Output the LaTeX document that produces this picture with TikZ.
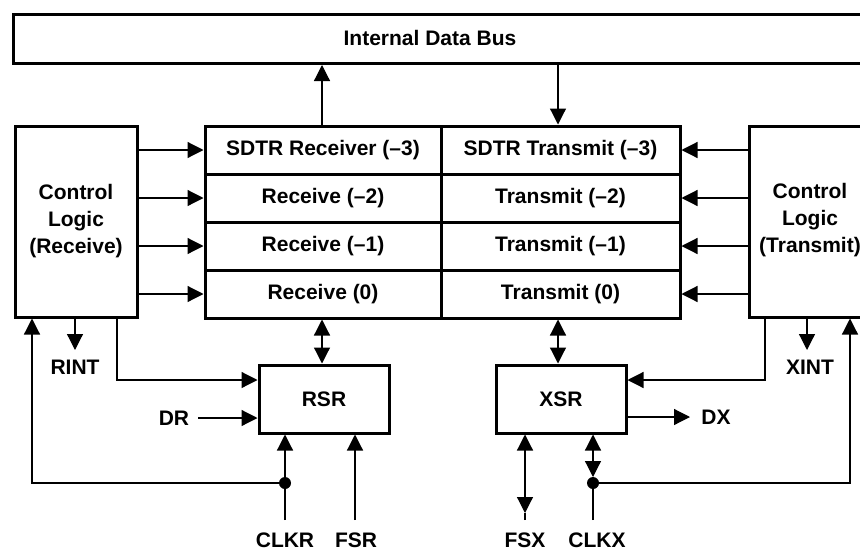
\documentclass[tikz,border=0pt]{standalone}
\usepackage{fontspec}
\setmainfont{Liberation Sans}
\usetikzlibrary{arrows.meta}
\begin{document}
\begin{tikzpicture}[x=1pt,y=-1pt,
  >={Triangle[length=16pt,width=16pt]},
  every node/.style={font=\fontsize{21}{27}\selectfont\bfseries, inner sep=2pt},
  blk/.style={draw, line width=3pt, inner sep=0pt},
  cell/.style={blk, minimum height=48pt},
  wire/.style={line width=1.2pt},
  arr/.style={wire, ->},
  darr/.style={wire, <->},
  dotmark/.style={circle, fill, inner sep=0pt, minimum size=12pt}
]
\useasboundingbox (0,0) rectangle (860,552);
\clip (0,0) rectangle (860,552);

% bus
\node[blk, minimum width=870pt, minimum height=49pt, anchor=north west] (bus) at (12,13) {};
\node (bustxt) at (430,38) {Internal Data Bus};

% control blocks
\node[blk, minimum width=122pt, minimum height=191pt, align=center] (ctlR) at (76,221.5) {Control\\Logic\\(Receive)};
\node[blk, minimum width=135pt, minimum height=191pt] (ctlX) at (816.5,221.5) {};
\node[align=center] (ctlXtxt) at (810,220) {Control\\Logic\\(Transmit)};

% register cells
\node[cell, minimum width=236pt] (r3) at (323,150) {SDTR Receiver (–3)};
\node[cell, minimum width=236pt] (r2) at (323,198) {Receive (–2)};
\node[cell, minimum width=236pt] (r1) at (323,246) {Receive (–1)};
\node[cell, minimum width=236pt] (r0) at (323,294) {Receive (0)};
\node[cell, minimum width=239pt] (t3) at (560.5,150) {SDTR Transmit (–3)};
\node[cell, minimum width=239pt] (t2) at (560.5,198) {Transmit (–2)};
\node[cell, minimum width=239pt] (t1) at (560.5,246) {Transmit (–1)};
\node[cell, minimum width=239pt] (t0) at (560.5,294) {Transmit (0)};

% shift registers
\node[blk, minimum width=130pt, minimum height=68pt] (rsr) at (324,399) {RSR};
\node[blk, minimum width=130pt, minimum height=68pt] (xsr) at (561,399) {XSR};

% bus connections
\coordinate (upx) at (322,0);
\coordinate (dnx) at (558,0);
\draw[arr] (r3.north -| upx) -- (bus.south -| upx);
\draw[arr] (bus.south -| dnx) -- (t3.north -| dnx);
\draw[darr] (r0.south -| upx) -- (rsr.north -| upx);
\draw[darr] (t0.south -| dnx) -- (xsr.north -| dnx);

% control to registers
\foreach \n in {r3,r2,r1,r0} \draw[arr] (ctlR.east |- \n.west) -- (\n.west);
\foreach \n in {t3,t2,t1,t0} \draw[arr] (ctlX.west |- \n.east) -- (\n.east);

% receive side
\coordinate (lx) at (32,0);
\coordinate (rintx) at (75,350);
\node (rint) at (75,367) {RINT};
\draw[arr] (ctlR.south -| rintx) -- (rintx);
\coordinate (rsrin) at (117,380);
\draw[arr] (ctlR.south -| rsrin) |- (rsr.west |- rsrin);
\node (dr) at (174,418) {DR};
\coordinate (drstart) at (198,418);
\draw[arr] (drstart) -- (rsr.west |- drstart);
\coordinate (clkrdot) at (285,483);
\coordinate (clkrend) at (285,520);
\node (clkr) at (285,540) {CLKR};
\draw[arr] (clkrend) -- (rsr.south -| clkrend);
\draw[arr] (clkrdot) -| (ctlR.south -| lx);
\node[dotmark] (clkrmark) at (clkrdot) {};
\coordinate (fsrend) at (355,520);
\node (fsr) at (356,540) {FSR};
\draw[arr] (fsrend) -- (rsr.south -| fsrend);

% transmit side
\coordinate (xsrin) at (765,380);
\draw[arr] (ctlX.south -| xsrin) |- (xsr.east |- xsrin);
\coordinate (dxend) at (690,417);
\node (dx) at (716,417) {DX};
\draw[arr] (xsr.east |- dxend) -- (dxend);
\coordinate (xintx) at (807,350);
\node (xint) at (810,367) {XINT};
\draw[arr] (ctlX.south -| xintx) -- (xintx);
\coordinate (rx) at (850,0);
\coordinate (clkxdot) at (593,483);
\coordinate (clkxend) at (593,520);
\node (clkx) at (597,540) {CLKX};
\draw[wire] (clkxend) -- (clkxdot);
\draw[darr] ([yshift=6pt]clkxdot) -- (xsr.south -| clkxdot);
\draw[arr] (clkxdot) -| (ctlX.south -| rx);
\node[dotmark] (clkxmark) at (clkxdot) {};
\coordinate (fsxend) at (525,520);
\coordinate (fsxtip) at (525,513);
\node (fsx) at (525,540) {FSX};
\draw[wire] (fsxend) -- (fsxtip);
\draw[darr] (fsxtip) -- (xsr.south -| fsxtip);
\end{tikzpicture}
\end{document}
